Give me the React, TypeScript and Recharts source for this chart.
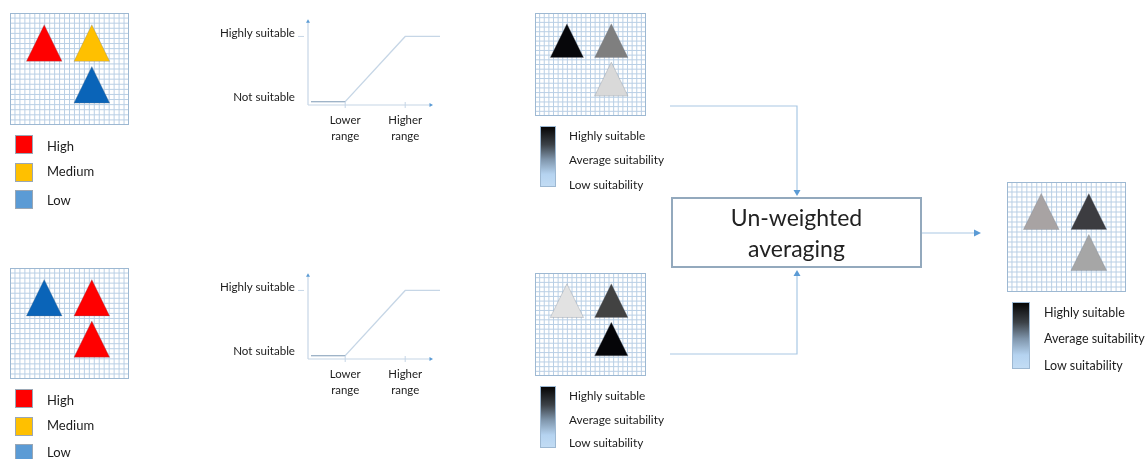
import { CSSProperties } from "react";
import {
  CartesianGrid,
  LineChart,
  Line,
  ReferenceDot,
  ReferenceLine,
  Scatter,
  ScatterChart,
  XAxis,
  YAxis,
} from "recharts";

// triangle centres, in grid cells (same layout on every map)
const triangleCols = [6.9, 16.5, 16.5];
const triangleRows = [5.9, 5.9, 14.1];

const inputA = ["#ff0000", "#ffc000", "#0a64b8"];
const inputB = ["#0a64b8", "#ff0000", "#ff0000"];
const suitA = ["#07070a", "#7f7f7f", "#d9d9d9"];
const suitB = ["#e2e2e2", "#424242", "#050508"];
const averaged = ["#a8a3a3", "#3c3c40", "#a6a6a6"];

const gridCols = [0, 1, 2, 3, 4, 5, 6, 7, 8, 9, 10, 11, 12, 13, 14, 15, 16, 17, 18, 19, 20, 21, 22, 23, 24];
const gridRows = [0, 1, 2, 3, 4, 5, 6, 7, 8, 9, 10, 11, 12, 13, 14, 15, 16, 17, 18, 19, 20, 21, 22];

// membership curve
const curveX = [0.05, 0.62, 1.62, 2.2];
const curveY = [0.05, 0.05, 1, 1];
const floorY = [0.05, 0.05, null, null];
const curveData = curveX.map((x, i) => ({ x, y: curveY[i], floor: floorY[i] }));
const xTicks = [0.62, 1.62];
const xTickLabels = [["Lower", "range"], ["Higher", "range"]];
const yTicks = [0.05, 1];
const yTickLabels = ["Not suitable", "Highly suitable"];

const levelNames = ["High", "Medium", "Low"];
const levelColors = ["#ff0000", "#ffc000", "#5b9bd5"];
const suitNames = ["Highly suitable", "Average suitability", "Low suitability"];

const FONT = "Lato, 'Open Sans', sans-serif";
const TEXT = "#1c1c1c";
const LINE = "#c6d6e6";
const FLOW = "#a9c8e4";
const BLUE = "#5b9bd5";

const abs = (left: number, top: number, extra?: CSSProperties): CSSProperties => ({
  position: "absolute",
  left,
  top,
  ...extra,
});

function MapPanel({ left, top, width, height, colors }: { left: number; top: number; width: number; height: number; colors: string[] }) {
  const data = colors.map((fill, i) => ({ x: triangleCols[i], y: triangleRows[i], fill }));
  const triW = (width / 24) * 7.2;
  const triH = (height / 22) * 7.2;
  return (
    <div style={abs(left, top)}>
      <ScatterChart width={width} height={height} margin={{ top: 0, right: 0, bottom: 0, left: 0 }}>
        <XAxis type="number" dataKey="x" domain={[0, 24]} ticks={gridCols} interval={0} hide />
        <YAxis type="number" dataKey="y" domain={[0, 22]} ticks={gridRows} interval={0} reversed hide />
        <CartesianGrid stroke="#b9cfe5" strokeWidth={1} syncWithTicks />
        <ReferenceLine segment={[{ x: 0, y: 0 }, { x: 24, y: 0 }]} stroke="#9db8d2" strokeWidth={2} />
        <ReferenceLine segment={[{ x: 0, y: 22 }, { x: 24, y: 22 }]} stroke="#9db8d2" strokeWidth={2} />
        <ReferenceLine segment={[{ x: 0, y: 0 }, { x: 0, y: 22 }]} stroke="#9db8d2" strokeWidth={2} />
        <ReferenceLine segment={[{ x: 24, y: 0 }, { x: 24, y: 22 }]} stroke="#9db8d2" strokeWidth={2} />
        <Scatter
          data={data}
          isAnimationActive={false}
          shape={(p: any) => (
            <path
              d={`M${p.cx},${p.cy - triH / 2}L${p.cx + triW / 2},${p.cy + triH / 2}L${p.cx - triW / 2},${p.cy + triH / 2}Z`}
              fill={p.payload.fill}
              stroke="#6f7f90"
              strokeOpacity={0.3}
              strokeWidth={1}
            />
          )}
        />
      </ScatterChart>
    </div>
  );
}

function CurveXTick({ x, y, index }: any) {
  return (
    <g>
      <line x1={x} x2={x} y1={y - 9} y2={y - 3} stroke={LINE} />
      <text textAnchor="middle" fontFamily={FONT} fontSize={11.4} fill={TEXT}>
        <tspan x={x} y={y + 13}>{xTickLabels[index][0]}</tspan>
        <tspan x={x} y={y + 29}>{xTickLabels[index][1]}</tspan>
      </text>
    </g>
  );
}

function CurveYTick({ x, y, index }: any) {
  return (
    <g>
      {index === 1 && <line x1={x - 2} x2={x + 4} y1={y} y2={y} stroke={LINE} />}
      <text x={x - 5} y={index === 1 ? y - 3 : y - 5} dy={4} textAnchor="end" fontFamily={FONT} fontSize={11.6} fill={TEXT}>
        {yTickLabels[index]}
      </text>
    </g>
  );
}

function arrowHead(dir: "up" | "right") {
  return (p: any) => (
    <path
      d={dir === "up" ? `M${p.cx},${p.cy - 2}l2,3.5h-4Z` : `M${p.cx + 2},${p.cy}l-3.5,2v-4Z`}
      fill={BLUE}
    />
  );
}

function CurveChart({ top }: { top: number }) {
  return (
    <div style={abs(200, top)}>
      <LineChart width={245} height={130} data={curveData} margin={{ top: 5, right: 5, bottom: 0, left: 0 }}>
        <XAxis
          type="number"
          dataKey="x"
          domain={[0, 2.2]}
          ticks={xTicks}
          interval={0}
          axisLine={false}
          tickLine={false}
          tickMargin={0}
          height={40}
          tick={<CurveXTick />}
        />
        <YAxis
          type="number"
          domain={[0, 1.24]}
          ticks={yTicks}
          interval={0}
          axisLine={false}
          tickLine={false}
          width={108}
          tick={<CurveYTick />}
        />
        <ReferenceLine segment={[{ x: 0, y: 0 }, { x: 2.05, y: 0 }]} stroke={LINE} strokeWidth={1.2} />
        <ReferenceLine segment={[{ x: 0, y: 0 }, { x: 0, y: 1.22 }]} stroke={LINE} strokeWidth={1.2} />
        <ReferenceDot x={2.05} y={0} shape={arrowHead("right")} />
        <ReferenceDot x={0} y={1.22} shape={arrowHead("up")} />
        <Line dataKey="y" stroke={LINE} strokeWidth={1.3} dot={false} isAnimationActive={false} />
        <Line dataKey="floor" stroke="#9fb4c8" strokeWidth={1.2} dot={false} isAnimationActive={false} />
      </LineChart>
    </div>
  );
}

function LevelLegend({ tops, labelTops }: { tops: number[]; labelTops: number[] }) {
  return (
    <>
      {levelNames.map((name, i) => (
        <div key={name}>
          <div style={abs(15, tops[i], { width: 18, height: 19, background: levelColors[i], boxSizing: "border-box", border: "1px solid #9aa7b5" })} />
          <div style={abs(47, labelTops[i] - 7, { fontFamily: FONT, fontSize: 13, lineHeight: "14px", color: TEXT })}>{name}</div>
        </div>
      ))}
    </>
  );
}

function SuitLegend({ left, top, width, height, textLeft, labelYs, fontSize }: { left: number; top: number; width: number; height: number; textLeft: number; labelYs: number[]; fontSize: number }) {
  return (
    <>
      <div
        style={abs(left, top, {
          width,
          height,
          boxSizing: "border-box",
          border: "1px solid #9db8d2",
          background: "linear-gradient(#050505 0%, #3c4248 30%, #7f95ab 55%, #b5d3f0 80%, #c2dcf4 100%)",
        })}
      />
      {suitNames.map((name, i) => (
        <div key={name} style={abs(textLeft, labelYs[i] - 9, { fontFamily: FONT, fontSize, lineHeight: "18px", color: TEXT, whiteSpace: "nowrap" })}>
          {name}
        </div>
      ))}
    </>
  );
}

export default function App() {
  return (
    <div style={abs(0, 0, { width: 1147, height: 459, overflow: "hidden", background: "#fff", filter: "blur(0.45px)" })}>
      <MapPanel left={10} top={13} width={119} height={112} colors={inputA} />
      <MapPanel left={10} top={268} width={119} height={111} colors={inputB} />
      <MapPanel left={535} top={13} width={111} height={103} colors={suitA} />
      <MapPanel left={535} top={273} width={111} height={103} colors={suitB} />
      <MapPanel left={1007} top={182} width={119} height={110} colors={averaged} />

      <LevelLegend tops={[135, 163, 190]} labelTops={[146, 171, 200]} />
      <LevelLegend tops={[389, 417, 444]} labelTops={[400, 425, 452]} />

      <CurveChart top={15} />
      <CurveChart top={269} />

      <SuitLegend left={540} top={126} width={16} height={61} textLeft={569} labelYs={[136, 160, 185]} fontSize={11.8} />
      <SuitLegend left={540} top={386} width={16} height={62} textLeft={569} labelYs={[396, 420, 443]} fontSize={11.8} />
      <SuitLegend left={1012} top={302} width={18} height={67} textLeft={1044} labelYs={[313, 339, 366]} fontSize={12.5} />

      <svg width={1147} height={459} style={abs(0, 0)}>
        <path d="M670,106H797V190" fill="none" stroke={FLOW} strokeWidth={1.2} />
        <path d="M670,354H797V275" fill="none" stroke={FLOW} strokeWidth={1.2} />
        <path d="M922,233H975" fill="none" stroke={FLOW} strokeWidth={1.2} />
        <path d="M793.5,190h7l-3.5,6Z" fill={BLUE} />
        <path d="M793.5,276h7l-3.5,-6Z" fill={BLUE} />
        <path d="M974,229.5v7l7,-3.5Z" fill={BLUE} />
      </svg>

      <div
        style={abs(671, 197, {
          width: 251,
          height: 71,
          boxSizing: "border-box",
          border: "2px solid #93a9bd",
          background: "#fff",
          textAlign: "center",
          fontFamily: FONT,
          fontSize: 23,
          lineHeight: "31px",
          paddingTop: 3,
          color: "#222",
        })}
      >
        Un-weighted
        <br />
        averaging
      </div>
    </div>
  );
}
